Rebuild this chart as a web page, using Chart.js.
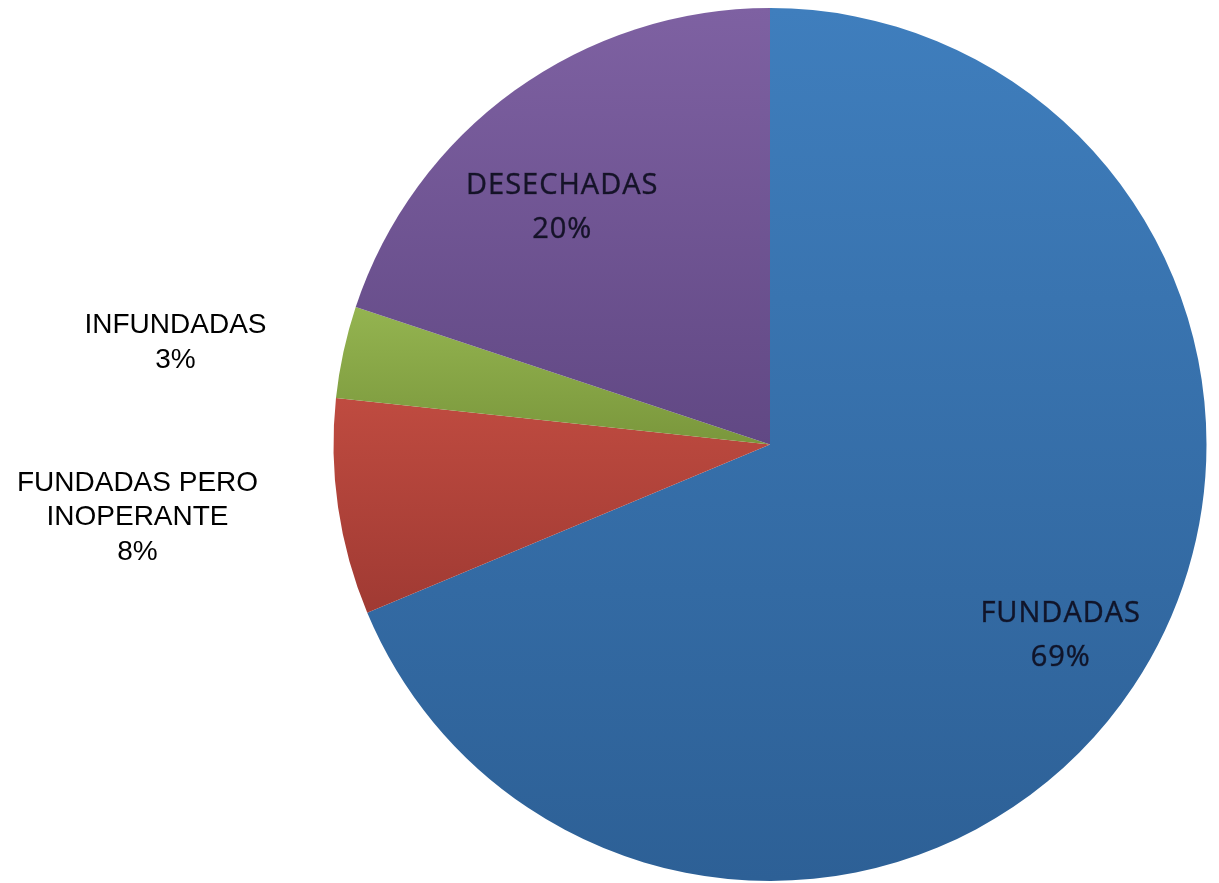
<!DOCTYPE html>
<html>
<head>
<meta charset="utf-8">
<script src="https://cdn.jsdelivr.net/npm/chart.js@4/dist/chart.umd.min.js"></script>
<style>
    html, body { margin: 0; padding: 0; background: #ffffff; }
    .wrap { width: 1219px; height: 883px; position: relative; }
</style>
</head>
<body>
<div class="wrap"><canvas id="pieChart"></canvas></div>
<script>
const categories = ['FUNDADAS', 'FUNDADAS PERO INOPERANTE', 'INFUNDADAS', 'DESECHADAS'];
// slice sizes (labels show the rounded figures)
const shares = [68.7, 8.0, 3.4, 19.9];
const labelLines = [
    ['FUNDADAS', '69%'],
    ['FUNDADAS PERO', 'INOPERANTE', '8%'],
    ['INFUNDADAS', '3%'],
    ['DESECHADAS', '20%']
];
const topColors = ['#3f7ebd', '#bf4b40', '#94b450', '#7e61a2'];
const bottomColors = ['#2d6096', '#a03a33', '#7a973c', '#614884'];

// label anchor relative to the pie centre, in radius units
const labelAnchors = [
    { dx: 0.666, dy: 0.438, inside: true },
    { dx: -1.449, dy: 0.167, inside: false },
    { dx: -1.362, dy: -0.233, inside: false },
    { dx: -0.476, dy: -0.542, inside: true }
];

function arcVerticalExtent(arc) {
    const { y, startAngle, endAngle, outerRadius } = arc;
    const ys = [y, y + outerRadius * Math.sin(startAngle), y + outerRadius * Math.sin(endAngle)];
    for (let k = -4; k <= 4; k++) {
        const a = Math.PI / 2 + k * Math.PI;
        if (a > startAngle && a < endAngle) ys.push(y + outerRadius * Math.sin(a));
    }
    return [Math.min(...ys), Math.max(...ys)];
}

const gradientFill = {
    id: 'gradientFill',
    beforeDatasetsDraw(chart) {
        const { ctx } = chart;
        chart.getDatasetMeta(0).data.forEach((arc, i) => {
            const [y0, y1] = arcVerticalExtent(arc);
            const g = ctx.createLinearGradient(0, y0, 0, y1);
            g.addColorStop(0, topColors[i]);
            g.addColorStop(1, bottomColors[i]);
            arc.options.backgroundColor = g;
        });
    }
};

const sliceLabels = {
    id: 'sliceLabels',
    afterDatasetsDraw(chart) {
        const { ctx } = chart;
        const arcs = chart.getDatasetMeta(0).data;
        const cx = arcs[0].x;
        const cy = arcs[0].y;
        const r = arcs[0].outerRadius;
        ctx.save();
        ctx.textAlign = 'center';
        ctx.textBaseline = 'middle';
        labelAnchors.forEach((anchor, i) => {
            const lines = labelLines[i];
            let lineHeight;
            if (anchor.inside) {
                ctx.font = '29px "Open Sans", sans-serif';
                ctx.fillStyle = 'rgba(14, 14, 32, 0.92)';
                ctx.strokeStyle = 'rgba(14, 14, 32, 0.6)';
                ctx.lineWidth = 0.6;
                ctx.letterSpacing = '1px';
                lineHeight = 43.5;
            } else {
                ctx.font = '28px "Liberation Sans", Arial, sans-serif';
                ctx.fillStyle = '#000000';
                ctx.letterSpacing = '0px';
                lineHeight = 34.5;
            }
            const x = cx + anchor.dx * r;
            const yMid = cy + anchor.dy * r;
            const y0 = yMid - (lines.length - 1) * lineHeight / 2;
            lines.forEach((line, j) => {
                ctx.fillText(line, x, y0 + j * lineHeight);
                if (anchor.inside) ctx.strokeText(line, x, y0 + j * lineHeight);
            });
        });
        ctx.restore();
    }
};

new Chart(document.getElementById('pieChart'), {
    type: 'pie',
    data: {
        labels: categories,
        datasets: [{
            data: shares,
            backgroundColor: topColors,
            borderWidth: 0
        }]
    },
    options: {
        responsive: true,
        maintainAspectRatio: false,
        animation: false,
        layout: {
            padding: { left: 333, right: 12, top: 8, bottom: 2 }
        },
        plugins: {
            legend: { display: false },
            tooltip: { enabled: false }
        }
    },
    plugins: [gradientFill, sliceLabels]
});
</script>
</body>
</html>
